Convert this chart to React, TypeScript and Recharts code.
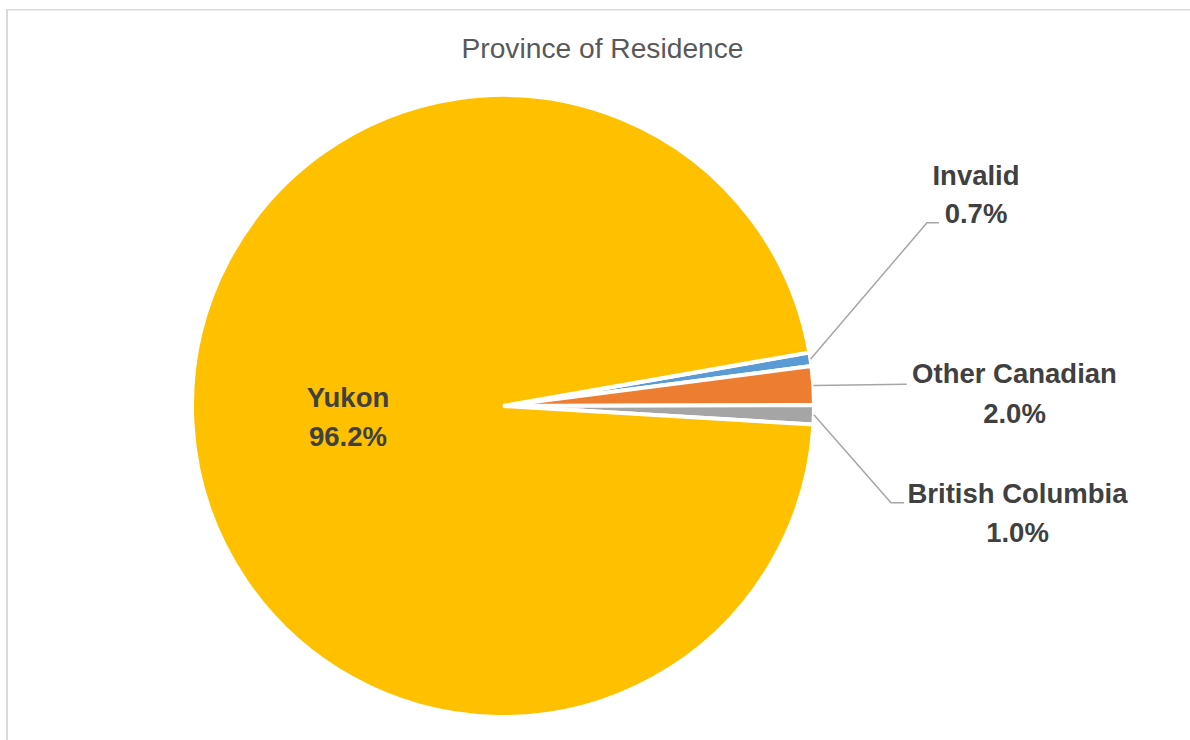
import React from 'react';
import { PieChart, Pie, Cell } from 'recharts';

// ---- data ----
const categories = ['Invalid', 'Other Canadian', 'British Columbia', 'Yukon'];
const shares = [0.7, 2.0, 1.0, 96.2];
const sliceColors = ['#5B9BD5', '#ED7D31', '#A5A5A5', '#FFC000'];
const chartTitle = 'Province of Residence';

const data = categories.map((name, i) => ({ name, value: shares[i] }));

// ---- layout (offsets relative to pie centre) ----
const LABEL_LAYOUT: { tx: number; ty1: number; ty2: number; line: number[][] | null }[] = [
  { tx: 473, ty1: -221, ty2: -183, line: [[424, -183.3], [436, -183.3]] },
  { tx: 511.5, ty1: -23, ty2: 17, line: [[403.7, -21.7]] },
  { tx: 514.5, ty1: 97, ty2: 136, line: [[388, 96.7], [401, 96.7]] },
  { tx: -155, ty1: 0.7, ty2: 40, line: null },
];

const FONT = '"Liberation Sans", Arial, sans-serif';
const RAD = Math.PI / 180;

const renderLabel = (props: any) => {
  const { cx, cy, midAngle, outerRadius, index } = props;
  const lay = LABEL_LAYOUT[index];
  const name = categories[index];
  const value = shares[index];
  let poly: string | null = null;
  if (lay.line) {
    const r = outerRadius;
    const sx = cx + r * Math.cos(-midAngle * RAD);
    const sy = cy + r * Math.sin(-midAngle * RAD);
    const pts = [[sx, sy], ...lay.line.map(([dx, dy]) => [cx + dx, cy + dy])];
    poly = pts.map((p) => p.join(',')).join(' ');
  }
  return (
    <g key={`lbl-${index}`}>
      {poly && <polyline points={poly} fill="none" stroke="#A6A6A6" strokeWidth={1.5} />}
      <text
        textAnchor="middle"
        fontFamily={FONT}
        fontWeight="bold"
        fontSize={27.5}
        fill="#404040"
      >
        <tspan x={cx + lay.tx} y={cy + lay.ty1}>{name}</tspan>
        <tspan x={cx + lay.tx} y={cy + lay.ty2}>{value.toFixed(1)}%</tspan>
      </text>
    </g>
  );
};

export default function App() {
  return (
    <div style={{ position: 'relative', width: 1190, height: 740, overflow: 'hidden' }}>
      <style>{'html,body{margin:0;padding:0;overflow:hidden;}'}</style>
      <PieChart width={1190} height={740} margin={{ top: 0, right: 0, bottom: 0, left: 0 }}>
        <Pie
          data={data}
          dataKey="value"
          nameKey="name"
          cx={503}
          cy={406}
          outerRadius={311}
          startAngle={9.91}
          endAngle={-350.09}
          stroke="#FFFFFF"
          strokeWidth={4}
          label={renderLabel}
          labelLine={false}
          isAnimationActive={false}
        >
          {data.map((d, i) => (
            <Cell key={d.name} fill={sliceColors[i]} />
          ))}
        </Pie>
      </PieChart>
      <svg
        width={1190}
        height={740}
        style={{ position: 'absolute', left: 0, top: 0, pointerEvents: 'none' }}
      >
        <rect x={6} y={9} width={1184} height={1.5} fill="#D9D9D9" />
        <rect x={6} y={9} width={2} height={731} fill="#D9D9D9" />
        <text x={602.5} y={58} textAnchor="middle" fontFamily={FONT} fontSize={28.2} fill="#595959">
          {chartTitle}
        </text>
      </svg>
    </div>
  );
}
